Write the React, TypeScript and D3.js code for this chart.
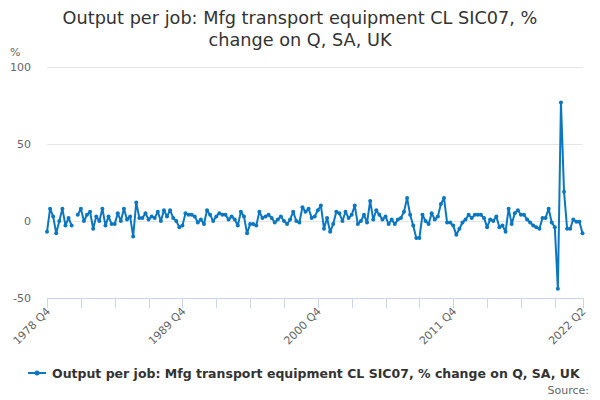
import React, { useEffect, useRef } from 'react';
import * as d3 from 'd3';

const title = ['Output per job: Mfg transport equipment CL SIC07, %', 'change on Q, SA, UK'];
const seriesName = 'Output per job: Mfg transport equipment CL SIC07, % change on Q, SA, UK';

// first quarter of the series, 1978 Q4
const startYear = 1978;
const startQuarter = 4;

// % change on previous quarter, 1978 Q4 .. 2022 Q2 (null = no value)
const values: (number | null)[] = [
  -7, 8, 3, -8, 0, 8, -3, 2, -3, null,
  4, 8, 0, 4, 6, -5, 3, 0, 8, -3,
  3, -2, -2, 5, 0, 8, 1, 3, -10, 12,
  2, 2, 5, 1, 3, 2, 6, 0, 7, 3,
  7, 2, 0, -4, -3, 5, 4, 4, 3, -1,
  1, -2, 7, 4, 0, 3, 5, 4, 4, 1,
  3, 1, -3, 6, 3, -8, -2, -2, -3, 6,
  2, 3, 4, 2, -1, 1, 3, 0, -2, 1,
  6, 0, -1, 9, 6, 8, 2, 3, 7, 10,
  -5, 2, -7, -2, 6, 5, 0, 6, 2, 4,
  10, -2, 0, 4, -1, 13, 1, 7, 4, 1,
  3, -2, 1, -2, 1, 2, 6, 15, 4, -3,
  -11, -11, 4, 0, -2, 5, 1, 3, 11, 15,
  -1, -1, -3, -9, -5, -1, 1, 4, 2, 4,
  4, 4, 2, -4, 1, 0, 3, -4, -3, -7,
  8, -2, 5, 7, 4, 4, 1, -1, -3, -4,
  -5, 2, 2, 8, -1, -4, -44, 77, 19, -5,
  -5, 1, -0.5, -0.5, -8,
];

const yTicks = [-50, 0, 50, 100];
const xLabelTicks = ['1978 Q4', '1989 Q4', '2000 Q4', '2011 Q4', '2022 Q2'];

const quarterName = (i: number) => {
  const q = startQuarter - 1 + i;
  return `${startYear + Math.floor(q / 4)} Q${(q % 4) + 1}`;
};
const categories = values.map((_, i) => quarterName(i));

const App = () => {
  const ref = useRef<SVGSVGElement>(null);

  useEffect(() => {
    if (!ref.current) return;
    const width = 600;
    const height = 400;
    const blue = '#0b76c1';
    const font = '"DejaVu Sans", sans-serif';

    const svg = d3.select(ref.current);
    svg.selectAll('*').remove();
    svg.attr('width', width).attr('height', height);

    svg.append('rect').attr('width', width).attr('height', height).attr('fill', '#fff');

    const x = d3.scaleLinear().domain([0, values.length - 1]).range([47, 582.5]);
    const y = d3.scaleLinear().domain([-50, 100]).range([298, 67]);

    // title
    svg.append('text')
      .attr('x', 300).attr('y', 24)
      .attr('text-anchor', 'middle')
      .style('font-family', font).style('font-size', '17.7px').style('fill', '#333')
      .selectAll('tspan')
      .data(title)
      .enter().append('tspan')
        .attr('x', 300)
        .attr('dy', (d, i) => (i === 0 ? 0 : 22))
        .text(d => d);

    // gridlines
    svg.append('g').selectAll('line')
      .data(yTicks.filter(t => t !== -50))
      .enter().append('line')
        .attr('x1', 47).attr('x2', 583)
        .attr('y1', d => Math.round(y(d)) + 0.5).attr('y2', d => Math.round(y(d)) + 0.5)
        .attr('stroke', '#e6e6e6');

    // y labels
    svg.append('g').selectAll('text')
      .data(yTicks)
      .enter().append('text')
        .attr('x', 31).attr('y', d => y(d) + 4)
        .attr('text-anchor', 'end')
        .style('font-family', font).style('font-size', '11px').style('fill', '#666')
        .text(d => d);

    svg.append('text')
      .attr('x', 10).attr('y', 56)
      .style('font-family', font).style('font-size', '11px').style('fill', '#666')
      .text('%');

    // x axis
    svg.append('line')
      .attr('x1', 47).attr('x2', 583)
      .attr('y1', 298.5).attr('y2', 298.5)
      .attr('stroke', '#ccd6eb');

    const tickIdx = d3.range(0, values.length, 11).concat([values.length - 1]);
    svg.append('g').selectAll('line')
      .data(tickIdx)
      .enter().append('line')
        .attr('x1', d => Math.round(x(d)) + 0.5).attr('x2', d => Math.round(x(d)) + 0.5)
        .attr('y1', 298).attr('y2', 308)
        .attr('stroke', '#ccd6eb');

    svg.append('g').selectAll('text')
      .data(xLabelTicks)
      .enter().append('text')
        .attr('transform', d => `translate(${x(categories.indexOf(d)) + 4},${312}) rotate(-45)`)
        .attr('text-anchor', 'end')
        .style('font-family', font).style('font-size', '11px').style('fill', '#666')
        .text(d => d);

    // series
    const line = d3.line<number | null>()
      .defined(d => d !== null)
      .x((d, i) => x(i))
      .y(d => y(d as number));

    svg.append('path')
      .datum(values)
      .attr('d', line)
      .attr('fill', 'none')
      .attr('stroke', blue)
      .attr('stroke-width', 2)
      .attr('stroke-linejoin', 'round');

    svg.append('g').selectAll('circle')
      .data(values.map((v, i) => ({ v, i })).filter(d => d.v !== null))
      .enter().append('circle')
        .attr('cx', d => x(d.i)).attr('cy', d => y(d.v as number))
        .attr('r', 2)
        .attr('fill', blue);

    // legend
    const legend = svg.append('g').attr('transform', 'translate(28,373)');
    legend.append('line')
      .attr('x1', 0).attr('x2', 18).attr('y1', 0).attr('y2', 0)
      .attr('stroke', blue).attr('stroke-width', 2);
    legend.append('circle').attr('cx', 9).attr('cy', 0).attr('r', 2.5).attr('fill', blue);
    legend.append('text')
      .attr('x', 24).attr('y', 5)
      .style('font-family', font).style('font-size', '12.5px').style('font-weight', 'bold').style('fill', '#333')
      .text(seriesName);

    svg.append('text')
      .attr('x', 589).attr('y', 394)
      .attr('text-anchor', 'end')
      .style('font-family', font).style('font-size', '11px').style('fill', '#666')
      .text('Source:');
  }, []);

  return (
    <svg
      ref={ref}
      style={{ position: 'absolute', left: 0, top: 0 }}
    />
  );
};

export default App;
